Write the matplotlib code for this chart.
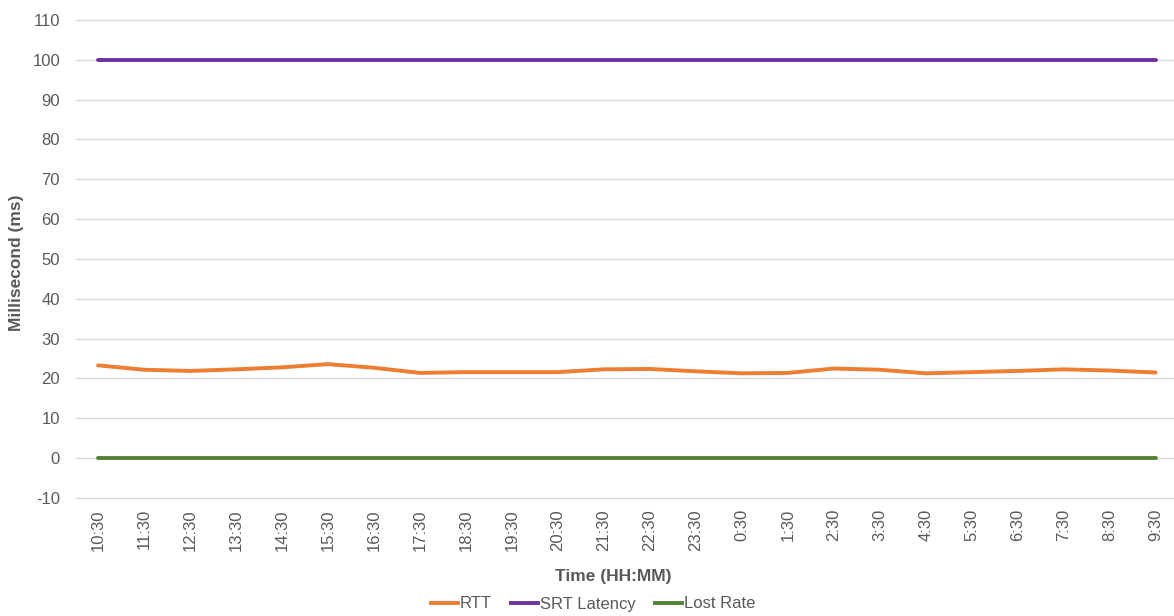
import matplotlib
matplotlib.use("Agg")
import matplotlib.pyplot as plt
from matplotlib.lines import Line2D

times = ["10:30", "11:30", "12:30", "13:30", "14:30", "15:30", "16:30", "17:30",
         "18:30", "19:30", "20:30", "21:30", "22:30", "23:30", "0:30", "1:30",
         "2:30", "3:30", "4:30", "5:30", "6:30", "7:30", "8:30", "9:30"]
rtt = [23.3, 22.2, 21.9, 22.3, 22.8, 23.6, 22.7, 21.4, 21.6, 21.6, 21.6, 22.3,
       22.4, 21.8, 21.3, 21.4, 22.5, 22.2, 21.3, 21.6, 21.9, 22.3, 22.0, 21.5]
srt_latency = [100] * 24
lost_rate = [0] * 24
yticks = list(range(-10, 111, 10))

plt.rcParams['font.family'] = ['Liberation Sans', 'DejaVu Sans']
plt.rcParams['axes.unicode_minus'] = False
text_color = "#595959"

fig = plt.figure(figsize=(11.74, 6.16), dpi=100)
ax = fig.add_axes([76 / 1174, 1 - 498 / 616, 1 - 76 / 1174, (498 - 20) / 616])

x = list(range(len(times)))
c_rtt = "#ED7D31"
c_srt = "#7030A0"
c_lost = "#548235"
lw = 2.8
ax.plot(x, rtt, color=c_rtt, lw=lw, solid_capstyle='round', zorder=3)
ax.plot(x, srt_latency, color=c_srt, lw=lw, solid_capstyle='round', zorder=3)
ax.plot(x, lost_rate, color=c_lost, lw=lw, solid_capstyle='round', zorder=3)

ax.set_xlim(-0.48, 23.4)
ax.set_ylim(-10, 110)
ax.set_yticks(yticks)
ax.set_xticks(x)
ax.set_xticklabels(times, rotation=90)
ax.grid(axis='y', color="#d9d9d9", lw=1)
for gl in ax.get_ygridlines():
    gl.set_clip_on(False)
ax.set_axisbelow(True)
for s in ax.spines.values():
    s.set_visible(False)
ax.tick_params(axis='y', length=0, pad=11.5, labelsize=12, labelcolor=text_color)
ax.tick_params(axis='x', length=0, pad=8, labelsize=12, labelcolor=text_color)

fig.text(17 / 1174, 1 - 263 / 616, "Millisecond (ms)", rotation=90, ha='center', va='center',
         fontsize=12.5, fontweight='bold', color=text_color)
fig.text(613 / 1174, 1 - 576 / 616, "Time (HH:MM)", ha='center', va='center',
         fontsize=12.5, fontweight='bold', color=text_color)

handles = [Line2D([0], [0], color=c_rtt, lw=lw),
           Line2D([0], [0], color=c_srt, lw=lw),
           Line2D([0], [0], color=c_lost, lw=lw)]
leg = fig.legend(handles, ["RTT", "SRT Latency", "Lost Rate"], loc='center',
                 bbox_to_anchor=(593 / 1174, 1 - 604 / 616), ncol=3, frameon=False,
                 fontsize=12, handlelength=1.6, handletextpad=0.1, columnspacing=1.2,
                 borderaxespad=0, borderpad=0)
for t in leg.get_texts():
    t.set_color(text_color)

fig.savefig("out.png", dpi=100)
